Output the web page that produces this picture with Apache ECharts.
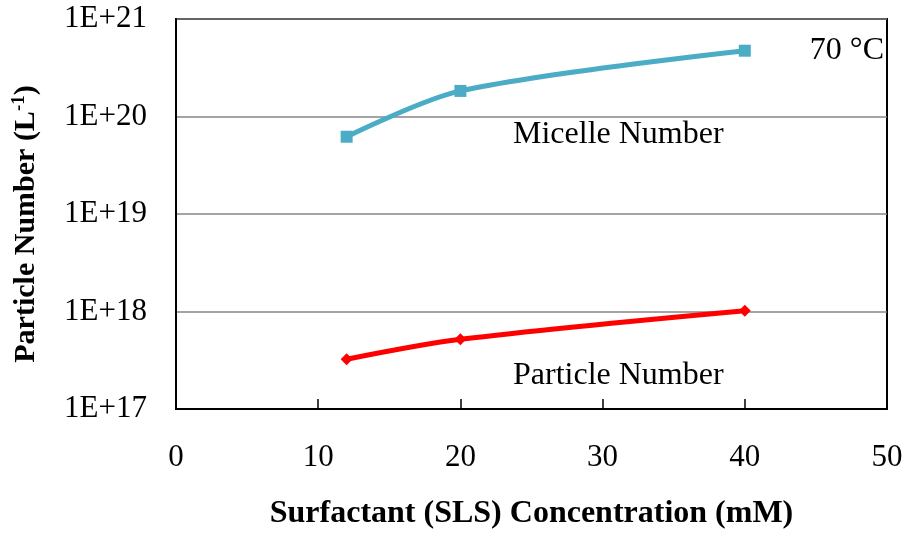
<!DOCTYPE html>
<html>
<head>
<meta charset="utf-8">
<script src="https://cdn.jsdelivr.net/npm/echarts@6/dist/echarts.min.js"></script>
<style>html,body{margin:0;padding:0;background:#fff;}#c{width:908px;height:533px;}</style>
</head>
<body>
<div id="c"></div>
<script>
var concentrations = [12, 20, 40];
var micelleNumber = [6.2e19, 1.83e20, 4.73e20];
var particleNumber = [3.24e17, 5.19e17, 1.02e18];
var xTicks = [0, 10, 20, 30, 40, 50];
var yTickExponents = [17, 18, 19, 20, 21];

function pairs(xs, ys) { return xs.map(function (x, i) { return [x, ys[i]]; }); }

var FONT = 'Liberation Serif';
var chart = echarts.init(document.getElementById('c'));
chart.setOption({
  animation: false,
  backgroundColor: '#fff',
  grid: { left: 176, right: 21, top: 19, bottom: 124, containLabel: false, outerBoundsMode: 'none', show: true, borderColor: '#000', borderWidth: 2, backgroundColor: 'transparent' },
  xAxis: {
    type: 'value', min: xTicks[0], max: xTicks[xTicks.length - 1], interval: 10,
    axisLine: { lineStyle: { color: '#000', width: 2 } },
    axisTick: { inside: true, length: 10, lineStyle: { color: '#000', width: 1.5 } },
    splitLine: { show: false },
    axisLabel: { margin: 33, fontFamily: FONT, fontSize: 31, color: '#000' },
    name: 'Surfactant (SLS) Concentration (mM)',
    nameLocation: 'middle', nameGap: 89,
    nameTextStyle: { fontFamily: FONT, fontSize: 32, fontWeight: 'bold', color: '#000' }
  },
  yAxis: {
    type: 'log', logBase: 10,
    min: Math.pow(10, yTickExponents[0]), max: Math.pow(10, yTickExponents[yTickExponents.length - 1]),
    axisLine: { lineStyle: { color: '#000', width: 2 } },
    axisTick: { show: false },
    minorTick: { show: false },
    splitLine: { show: true, lineStyle: { color: '#868686', width: 1.5 } },
    axisLabel: {
      margin: 29, fontFamily: FONT, fontSize: 31, color: '#000',
      formatter: function (v) { return '1E+' + Math.round(Math.log10(v)); }
    },
    name: '{a|Particle Number (L}{s|-1}{a|)}',
    nameLocation: 'middle', nameGap: 133, nameRotate: 90,
    nameTextStyle: {
      fontFamily: FONT, fontSize: 30, fontWeight: 'bold', color: '#000',
      padding: [0, 20, 0, 0],
      rich: {
        a: { fontFamily: FONT, fontSize: 30, fontWeight: 'bold', color: '#000' },
        s: { fontFamily: FONT, fontSize: 19, fontWeight: 'bold', color: '#000', verticalAlign: 'top', padding: [0, 0, 14, 0] }
      }
    }
  },
  series: [
    {
      name: 'Micelle Number', type: 'line', data: pairs(concentrations, micelleNumber),
      smooth: 0.3, symbol: 'rect', symbolSize: 12,
      lineStyle: { color: '#4BACC6', width: 5 }, itemStyle: { color: '#4BACC6' }
    },
    {
      name: 'Particle Number', type: 'line', data: pairs(concentrations, particleNumber),
      smooth: 0.3, symbol: 'diamond', symbolSize: 12,
      lineStyle: { color: '#FF0000', width: 5 }, itemStyle: { color: '#FF0000' }
    }
  ],
  graphic: [
    { type: 'text', left: 513, top: 119, style: { text: 'Micelle Number', font: '32px "' + FONT + '"', fill: '#000' } },
    { type: 'text', left: 513, top: 360, style: { text: 'Particle Number', font: '32px "' + FONT + '"', fill: '#000' } },
    { type: 'text', right: 24, top: 35, style: { text: '70 °C', font: '32px "' + FONT + '"', fill: '#000' } }
  ]
});
</script>
</body>
</html>
